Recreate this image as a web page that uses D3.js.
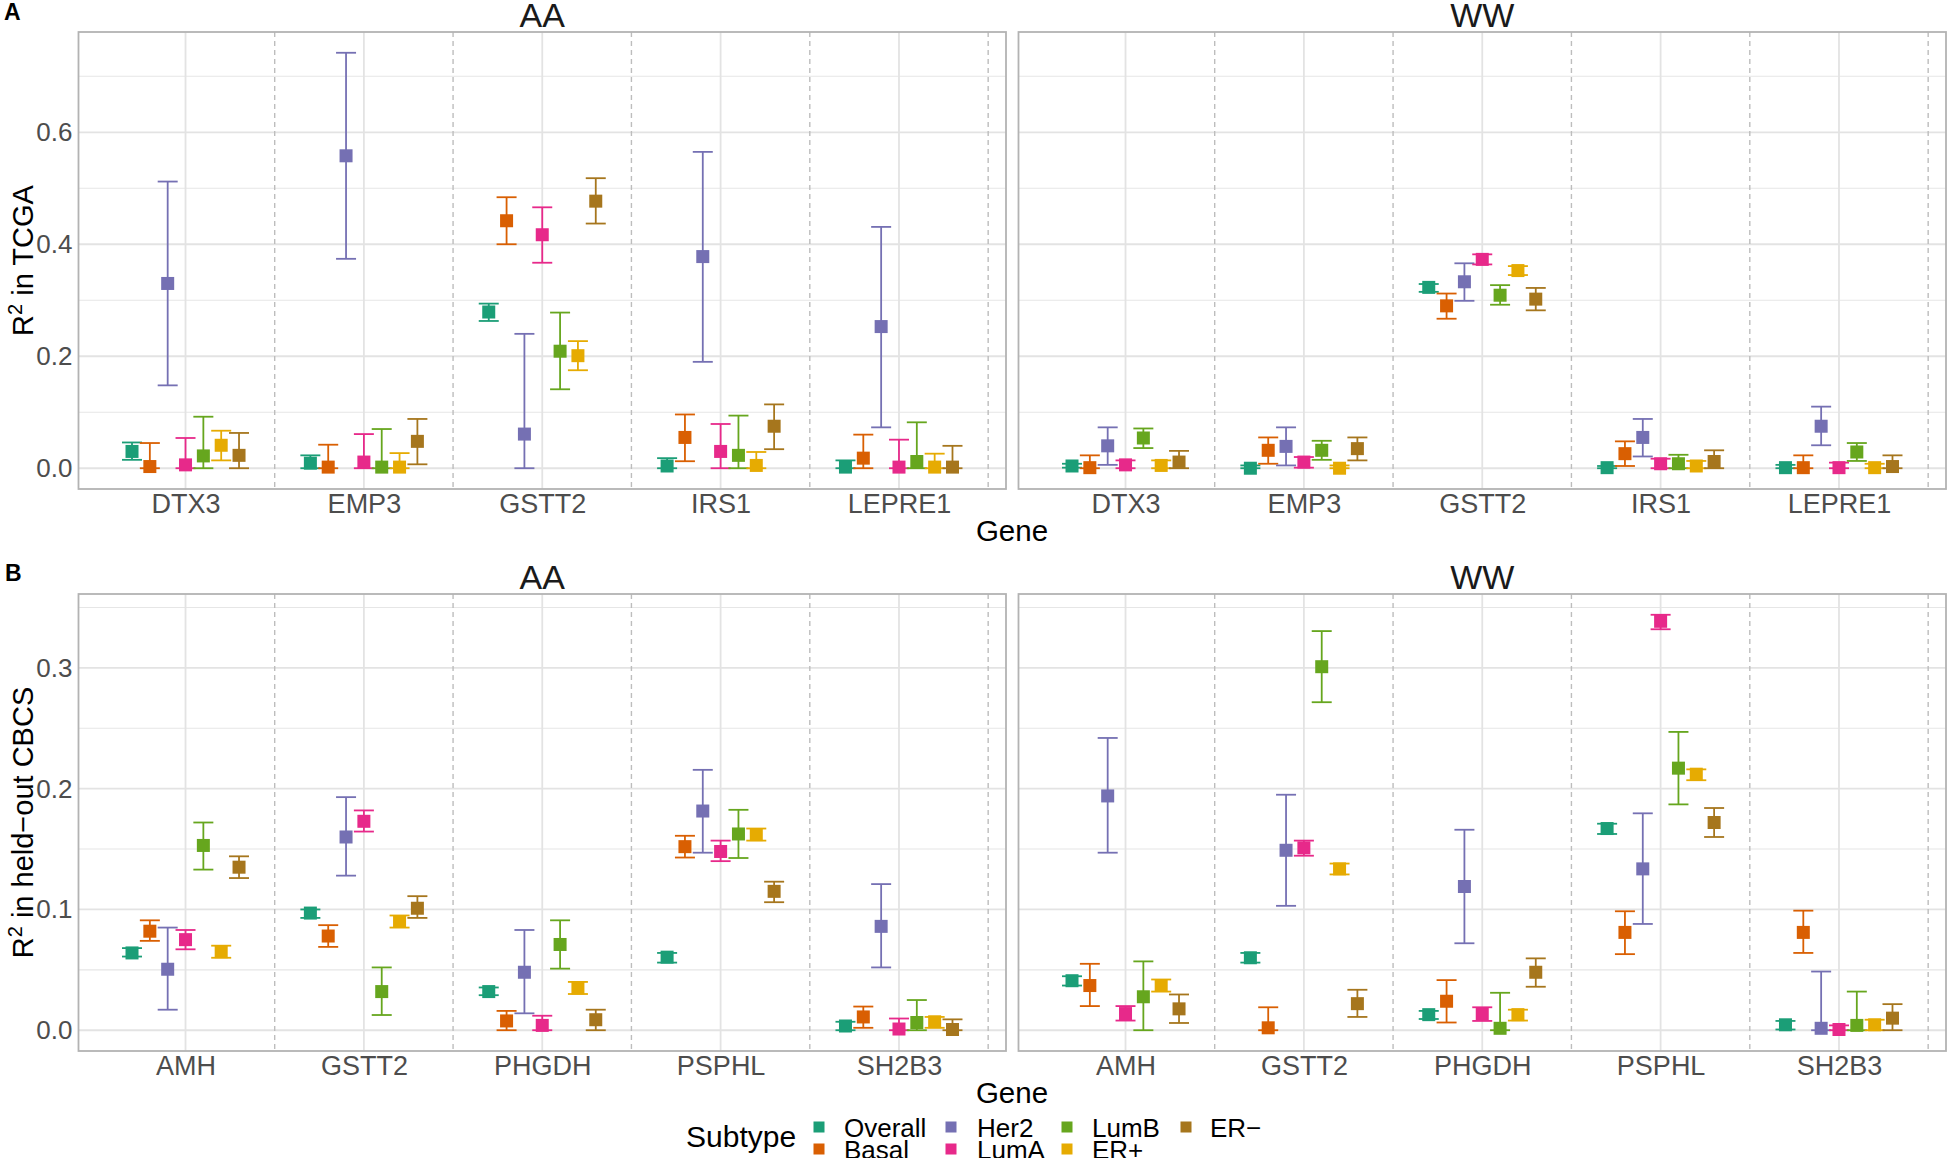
<!DOCTYPE html>
<html><head><meta charset="utf-8">
<script src="https://cdn.jsdelivr.net/npm/d3@7"></script>
<style>body{margin:0;background:#fff}</style>
</head><body>
<svg id="c" width="1947" height="1158"></svg>
<script>
// ---------- data ----------
const subtypes = ["Overall","Basal","Her2","LumA","LumB","ER+","ER\u2212"];
const subtypeColors = ["#1B9E77","#D95F02","#7570B3","#E7298A","#66A61E","#E6AB02","#A6761D"];
const genesA = ["DTX3","EMP3","GSTT2","IRS1","LEPRE1"];
const genesB = ["AMH","GSTT2","PHGDH","PSPHL","SH2B3"];
const yTicksA = [0,0.2,0.4,0.6];
const yMinorA = [0.1,0.3,0.5,0.7];
const yTicksB = [0,0.1,0.2,0.3];
const yMinorB = [0.05,0.15,0.25,0.35];

// Panel A: R2 in TCGA (rows = genes, cols = subtypes)
const tcgaAA_est = [
  [0.030,0.003,0.330,0.006,0.022,0.041,0.023],
  [0.009,0.002,0.558,0.011,0.002,0.002,0.048],
  [0.279,0.442,0.061,0.417,0.209,0.201,0.477],
  [0.004,0.055,0.378,0.030,0.023,0.005,0.075],
  [0.002,0.018,0.253,0.002,0.012,0.002,0.002]];
const tcgaAA_lo = [
  [0.015,0,0.148,0,0,0.014,0],
  [0,0,0.374,0,0,0,0.007],
  [0.263,0.400,0,0.367,0.141,0.175,0.437],
  [0,0.0125,0.190,0,0,0,0.034],
  [0,0,0.073,0,0,0,0]];
const tcgaAA_hi = [
  [0.046,0.045,0.512,0.054,0.092,0.067,0.063],
  [0.023,0.042,0.742,0.061,0.070,0.027,0.088],
  [0.294,0.484,0.240,0.466,0.278,0.227,0.518],
  [0.018,0.096,0.565,0.079,0.094,0.029,0.114],
  [0.014,0.060,0.431,0.051,0.082,0.026,0.040]];
const tcgaWW_est = [
  [0.004,0.001,0.040,0.006,0.054,0.005,0.011],
  [0.000,0.032,0.039,0.011,0.032,0.000,0.035],
  [0.323,0.290,0.333,0.373,0.309,0.353,0.302],
  [0.001,0.026,0.055,0.008,0.008,0.004,0.012],
  [0.001,0.001,0.075,0.001,0.029,0.001,0.003]];
const tcgaWW_lo = [
  [0.001,0,0.006,0,0.036,0,0],
  [0,0.008,0.005,0.001,0.015,0,0.014],
  [0.315,0.267,0.299,0.364,0.292,0.345,0.282],
  [0,0.004,0.021,0,0,0,0],
  [0,0,0.041,0,0.013,0,0]];
const tcgaWW_hi = [
  [0.008,0.023,0.073,0.014,0.071,0.014,0.031],
  [0.005,0.055,0.073,0.020,0.049,0.005,0.055],
  [0.329,0.312,0.366,0.382,0.327,0.361,0.322],
  [0.004,0.048,0.088,0.017,0.024,0.013,0.032],
  [0.006,0.023,0.110,0.010,0.045,0.008,0.023]];

// Panel B: R2 in held-out CBCS
const cbcsAA_est = [
  [0.064,0.082,0.0505,0.075,0.153,0.065,0.135],
  [0.097,0.078,0.160,0.173,0.032,0.090,0.101],
  [0.032,0.0077,0.048,0.004,0.071,0.035,0.0087],
  [0.0605,0.152,0.1815,0.148,0.1625,0.162,0.115],
  [0.0035,0.011,0.086,0.001,0.0064,0.007,0.0006]];
const cbcsAA_lo = [
  [0.061,0.074,0.017,0.067,0.133,0.060,0.126],
  [0.093,0.069,0.128,0.1645,0.0126,0.085,0.093],
  [0.029,0,0.014,0,0.051,0.030,0],
  [0.056,0.143,0.147,0.140,0.1426,0.157,0.106],
  [0,0.002,0.052,0,0,0.002,0]];
const cbcsAA_hi = [
  [0.068,0.091,0.085,0.083,0.172,0.070,0.144],
  [0.100,0.087,0.193,0.182,0.052,0.095,0.111],
  [0.0354,0.016,0.083,0.012,0.091,0.040,0.017],
  [0.064,0.161,0.2156,0.157,0.1825,0.167,0.123],
  [0.007,0.0196,0.121,0.0097,0.025,0.011,0.009]];
const cbcsWW_est = [
  [0.041,0.037,0.194,0.0138,0.0277,0.037,0.0177],
  [0.060,0.002,0.149,0.151,0.301,0.1336,0.022],
  [0.0129,0.024,0.119,0.0135,0.0016,0.0129,0.048],
  [0.167,0.081,0.1336,0.3386,0.217,0.212,0.172],
  [0.0045,0.081,0.0016,0.0006,0.004,0.0045,0.010]];
const cbcsWW_lo = [
  [0.037,0.020,0.147,0.008,0,0.032,0.006],
  [0.056,0,0.103,0.1445,0.2716,0.129,0.011],
  [0.0093,0.0064,0.072,0.0077,0,0.008,0.036],
  [0.1625,0.063,0.088,0.332,0.187,0.207,0.160],
  [0.0006,0.064,0,0,0,0,0]];
const cbcsWW_hi = [
  [0.0447,0.055,0.242,0.020,0.057,0.042,0.0296],
  [0.064,0.019,0.195,0.157,0.3305,0.138,0.0335],
  [0.016,0.0415,0.166,0.019,0.031,0.017,0.0595],
  [0.171,0.0985,0.1796,0.344,0.247,0.216,0.184],
  [0.0077,0.099,0.0486,0.004,0.032,0.0087,0.0216]];

// ---------- drawing ----------
const FONT = "'Liberation Sans', Arial, Helvetica, sans-serif";
const svg = d3.select("#c").style("font-family", FONT);
const color = d3.scaleOrdinal(subtypes, subtypeColors);

const cols = [{x0:78.5,x1:1006,strip:"AA"},{x0:1018.5,x1:1946,strip:"WW"}];
const rows = [
  {y0:32,y1:489,genes:genesA,ticks:yTicksA,minor:yMinorA,
   data:[[tcgaAA_est,tcgaAA_lo,tcgaAA_hi],[tcgaWW_est,tcgaWW_lo,tcgaWW_hi]],
   title:" in TCGA",tag:"A"},
  {y0:594,y1:1051,genes:genesB,ticks:yTicksB,minor:yMinorB,
   data:[[cbcsAA_est,cbcsAA_lo,cbcsAA_hi],[cbcsWW_est,cbcsWW_lo,cbcsWW_hi]],
   title:" in held\u2212out CBCS",tag:"B"}
];

rows.forEach((row, ri) => {
  const all = row.data.flatMap(d => [d[1].flat(), d[2].flat()]).flat();
  const mn = d3.min(all), mx = d3.max(all), pad = (mx - mn) * 0.05;
  const y = d3.scaleLinear().domain([mn - pad, mx + pad]).range([row.y1, row.y0]);

  cols.forEach((col, ci) => {
    const x = d3.scalePoint().domain(row.genes).range([col.x0, col.x1]).padding(0.6);
    const step = x.step();
    const g = svg.append("g");
    const [est, lo, hi] = row.data[ci];

    // minor grid
    g.selectAll(".mn").data(row.minor).join("line")
      .attr("x1", col.x0).attr("x2", col.x1)
      .attr("y1", d => y(d)).attr("y2", d => y(d))
      .attr("stroke", "#E6E6E6").attr("stroke-width", 1.1);
    // major grid
    g.selectAll(".mj").data(row.ticks).join("line")
      .attr("x1", col.x0).attr("x2", col.x1)
      .attr("y1", d => y(d)).attr("y2", d => y(d))
      .attr("stroke", "#E3E3E3").attr("stroke-width", 1.8);
    g.selectAll(".vg").data(row.genes).join("line")
      .attr("x1", d => x(d)).attr("x2", d => x(d))
      .attr("y1", row.y0).attr("y2", row.y1)
      .attr("stroke", "#E3E3E3").attr("stroke-width", 1.8);
    // dashed separators
    g.selectAll(".ds").data(row.genes).join("line")
      .attr("x1", d => x(d) + step / 2).attr("x2", d => x(d) + step / 2)
      .attr("y1", row.y0).attr("y2", row.y1)
      .attr("stroke", "#BDBDBD").attr("stroke-width", 1.4)
      .attr("stroke-dasharray", "5,4");

    const items = [];
    row.genes.forEach((gn, gi) => subtypes.forEach((s, si) => {
      items.push({gene: gn, sub: s, i: si, v: est[gi][si], lo: lo[gi][si], hi: hi[gi][si]});
    }));
    const px = d => x(d.gene) + (d.i - 3) * step * 0.1;
    const cap = 10;

    const eb = g.selectAll(".eb").data(items).join("g")
      .attr("stroke", d => color(d.sub)).attr("stroke-width", 1.8);
    eb.append("line").attr("x1", px).attr("x2", px)
      .attr("y1", d => y(d.lo)).attr("y2", d => y(d.hi));
    eb.append("line").attr("x1", d => px(d) - cap).attr("x2", d => px(d) + cap)
      .attr("y1", d => y(d.lo)).attr("y2", d => y(d.lo));
    eb.append("line").attr("x1", d => px(d) - cap).attr("x2", d => px(d) + cap)
      .attr("y1", d => y(d.hi)).attr("y2", d => y(d.hi));

    const sz = 13;
    g.selectAll(".pt").data(items).join("rect")
      .attr("x", d => px(d) - sz / 2).attr("y", d => y(d.v) - sz / 2)
      .attr("width", sz).attr("height", sz)
      .attr("fill", d => color(d.sub));

    // border
    g.append("rect").attr("x", col.x0).attr("y", row.y0)
      .attr("width", col.x1 - col.x0).attr("height", row.y1 - row.y0)
      .attr("fill", "none").attr("stroke", "#B3B3B3").attr("stroke-width", 1.8);

    // x axis
    const xa = g.append("g").attr("transform", `translate(0,${row.y1})`)
      .call(d3.axisBottom(x).tickSize(0).tickPadding(5));
    xa.select(".domain").remove();
    xa.selectAll("text").attr("font-size", 27).attr("fill", "#4D4D4D")
      .attr("font-family", FONT);

    // y axis (left column only)
    if (ci === 0) {
      const ya = g.append("g").attr("transform", `translate(${col.x0},0)`)
        .call(d3.axisLeft(y).tickValues(row.ticks).tickFormat(d3.format(".1f")).tickSize(0).tickPadding(6));
      ya.select(".domain").remove();
      ya.selectAll("text").attr("font-size", 26).attr("fill", "#4D4D4D")
        .attr("font-family", FONT);
    }

    // strip
    svg.append("text").attr("x", (col.x0 + col.x1) / 2).attr("y", row.y0 - 5)
      .attr("text-anchor", "middle").attr("font-size", 34).attr("fill", "#1A1A1A")
      .text(col.strip);
  });

  // axis titles
  svg.append("text").attr("x", 1012).attr("y", row.y1 + 52)
    .attr("text-anchor", "middle").attr("font-size", 29.5).attr("fill", "#000")
    .text("Gene");
  const yt = svg.append("text")
    .attr("transform", `translate(33,${(row.y0 + row.y1) / 2}) rotate(-90)`)
    .attr("text-anchor", "middle").attr("font-size", 29).attr("fill", "#000");
  yt.append("tspan").text("R");
  yt.append("tspan").attr("font-size", 20).attr("dy", -11).text("2");
  yt.append("tspan").attr("dy", 11).text(row.title);

  svg.append("text").attr("x", ri === 0 ? 4 : 5).attr("y", ri === 0 ? 20 : 581)
    .attr("font-size", 23).attr("font-weight", "bold").attr("fill", "#000")
    .text(row.tag);
});

// legend
svg.append("text").attr("x", 686).attr("y", 1147)
  .attr("font-size", 30).attr("fill", "#000").text("Subtype");
const legCols = [[819, 844], [951, 977], [1067, 1092], [1186, 1210]];
const legRows = [1127, 1149];
subtypes.forEach((s, i) => {
  const c = Math.floor(i / 2), r = i % 2;
  const [kx, tx] = legCols[c];
  const ky = legRows[r];
  svg.append("rect").attr("x", kx - 5.5).attr("y", ky - 5.5).attr("width", 11).attr("height", 11)
    .attr("fill", color(s));
  svg.append("text").attr("x", tx).attr("y", ky + 9.5)
    .attr("font-size", 26).attr("fill", "#000").text(s);
});
</script>
</body></html>
